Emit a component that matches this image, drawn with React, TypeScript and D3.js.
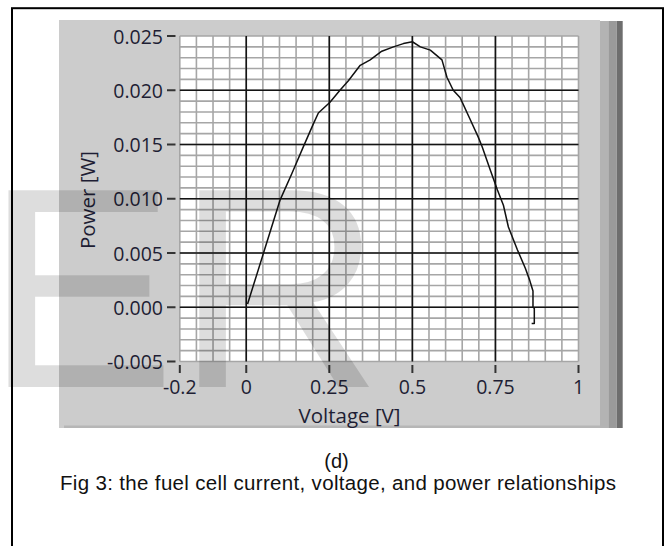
import React from "react";
import * as d3 from "d3";

// ---- data ----
const voltage = [0.004, 0.051, 0.102, 0.137, 0.172, 0.202, 0.217, 0.252, 0.282, 0.308, 0.343, 0.373, 0.408, 0.443, 0.473, 0.5, 0.524, 0.554, 0.589, 0.604, 0.623, 0.644, 0.674, 0.698, 0.71, 0.735, 0.756, 0.774, 0.789, 0.816, 0.84, 0.853, 0.86, 0.863, 0.863, 0.867, 0.867, 0.859];
const power = [0.0003, 0.0049, 0.0099, 0.0123, 0.0148, 0.0169, 0.0179, 0.0189, 0.02, 0.0209, 0.0223, 0.0228, 0.0236, 0.024, 0.0243, 0.02447, 0.024, 0.0237, 0.0228, 0.0212, 0.02, 0.0193, 0.0173, 0.0157, 0.0148, 0.0126, 0.0108, 0.0094, 0.0074, 0.0053, 0.0036, 0.0025, 0.0018, 0.0015, 0.0, -0.0001, -0.0015, -0.0015];

const xTickValues = [-0.2, 0, 0.25, 0.5, 0.75, 1];
const xTickLabels = ["-0.2", "0", "0.25", "0.5", "0.75", "1"];
const yTickValues = [-0.005, 0, 0.005, 0.01, 0.015, 0.02, 0.025];
const yTickLabels = ["-0.005", "0.000", "0.005", "0.010", "0.015", "0.020", "0.025"];
const xTitle = "Voltage [V]";
const yTitle = "Power [W]";
const subCaption = "(d)";
const caption = "Fig 3: the fuel cell current, voltage, and power relationships";
const watermark = "ER";

const W = 666;
const H = 546;

export default function App() {
  const x = d3.scaleLinear().domain([-0.2, 1]).range([179.8, 578.5]);
  const y = d3.scaleLinear().domain([-0.005, 0.025]).range([361.5, 36]);

  const minorX = d3.range(-0.2, 1.0001, 0.05);
  const minorY = d3.range(-0.005, 0.02501, 0.001);
  const majorX = [0, 0.25, 0.5, 0.75];
  const majorY = [0, 0.005, 0.01, 0.015, 0.02];

  const pts = voltage.map((v, i) => [v, power[i]] as [number, number]);
  const line = d3
    .line<[number, number]>()
    .x((d) => x(d[0]))
    .y((d) => y(d[1]));

  const tickFont = "'Open Sans', 'Noto Sans', sans-serif";
  const textColor = "#1e1e34";

  return (
    <svg
      width={W}
      height={H}
      style={{ position: "absolute", left: 0, top: 0, background: "#fff" }}
    >
      <rect x={0} y={0} width={W} height={H} fill="#fff" />
      {/* outer frame */}
      <rect x={12} y={8.2} width={651} height={600} fill="none" stroke="#000" strokeWidth={2} />

      {/* gray panel */}
      <rect x={59} y={20} width={541} height={408} fill="#cccccc" />
      <rect x={64} y={425.5} width={536} height={2.5} fill="#b6b6b6" />
      <rect x={600} y={21} width={8.3} height={407} fill="#b3b3b3" />
      <rect x={608.3} y={21} width={8.4} height={407} fill="#9a9a9a" />
      <rect x={616.7} y={21} width={6} height={407} fill="#6e6e6e" />

      {/* plot area */}
      <rect x={x(-0.2)} y={y(0.025)} width={x(1) - x(-0.2)} height={y(-0.005) - y(0.025)} fill="#fff" />
      {minorX.map((v, i) => (
        <line key={"mx" + i} x1={x(v)} x2={x(v)} y1={y(-0.005)} y2={y(0.025)} stroke="#a6a6a6" strokeWidth={1.6} />
      ))}
      {minorY.map((v, i) => (
        <line key={"my" + i} x1={x(-0.2)} x2={x(1)} y1={y(v)} y2={y(v)} stroke="#a6a6a6" strokeWidth={1.6} />
      ))}
      {majorX.map((v, i) => (
        <line key={"Mx" + i} x1={x(v)} x2={x(v)} y1={y(-0.005)} y2={y(0.025)} stroke="#141414" strokeWidth={1.6} />
      ))}
      {majorY.map((v, i) => (
        <line key={"My" + i} x1={x(-0.2)} x2={x(1)} y1={y(v)} y2={y(v)} stroke="#141414" strokeWidth={1.6} />
      ))}

      {/* y axis ticks */}
      {yTickValues.map((v, i) => (
        <g key={"yt" + i}>
          <line x1={167} x2={175.5} y1={y(v)} y2={y(v)} stroke="#333" strokeWidth={2} />
          <text
            x={163}
            y={y(v) + 7.5}
            textAnchor="end"
            fontFamily={tickFont}
            fontSize={19.5}
            fill={textColor}
          >
            {yTickLabels[i]}
          </text>
        </g>
      ))}

      {/* x axis ticks */}
      {xTickValues.map((v, i) => (
        <g key={"xt" + i}>
          <line x1={x(v)} x2={x(v)} y1={365} y2={373} stroke="#333" strokeWidth={2} />
          <text
            x={x(v)}
            y={394}
            textAnchor="middle"
            fontFamily={tickFont}
            fontSize={19.5}
            fill={textColor}
          >
            {xTickLabels[i]}
          </text>
        </g>
      ))}

      {/* axis titles */}
      <text x={349.5} y={423} textAnchor="middle" fontFamily={tickFont} fontSize={20.5} fill={textColor}>
        {xTitle}
      </text>
      <text
        transform="translate(95,200) rotate(-90)"
        textAnchor="middle"
        fontFamily={tickFont}
        fontSize={20.5}
        fill={textColor}
      >
        {yTitle}
      </text>

      {/* curve */}
      <path d={line(pts) || ""} fill="none" stroke="#111" strokeWidth={1.5} strokeLinejoin="round" />

      {/* watermark */}
      <text
        x={-15}
        y={387}
        fontFamily="'Liberation Sans', Arial, sans-serif"
        fontSize={286}
        fill="#000"
        fillOpacity={0.135}
        style={{ pointerEvents: "none" }}
      >
        {watermark}
      </text>

      {/* caption */}
      <text x={336.5} y={468} textAnchor="middle" fontFamily="'Liberation Sans', Arial, sans-serif" fontSize={20} fill="#111">
        {subCaption}
      </text>
      <text
        x={60}
        y={490}
        textLength={556}
        lengthAdjust="spacing"
        fontFamily="'Liberation Sans', Arial, sans-serif"
        fontSize={20.5}
        fill="#111"
      >
        {caption}
      </text>
    </svg>
  );
}
